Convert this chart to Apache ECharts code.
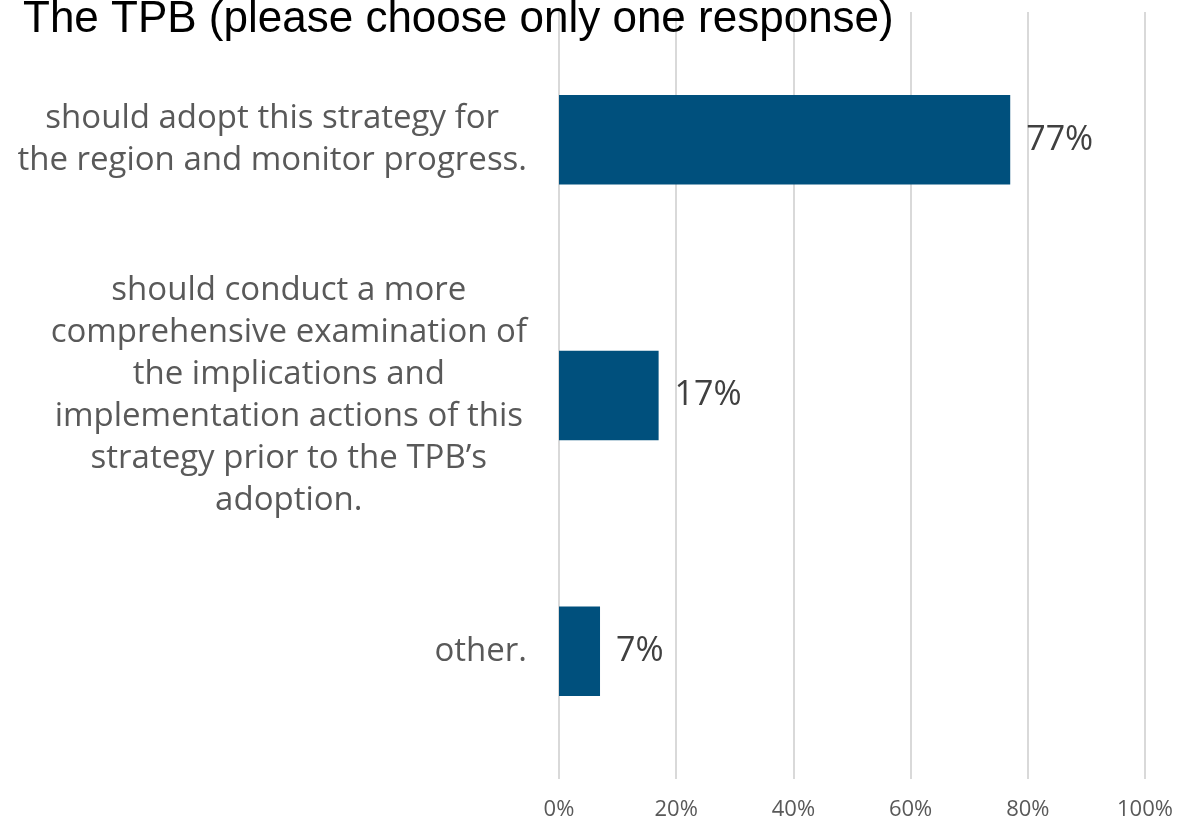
<!DOCTYPE html>
<html>
<head>
	<meta charset="utf-8"/>
	<title>TPB response</title>
	<script src="https://cdn.jsdelivr.net/npm/echarts@6/dist/echarts.min.js"></script>
</head>
<body style="margin: 0; background: #fff;">

	<div id="chart" style="width: 1178px; height: 821px;"></div>

	<script>
		var titleText = 'The TPB (please choose only one response)';
		var categories = [
			'should adopt this strategy for\nthe region and monitor progress.',
			'should conduct a more\ncomprehensive examination of\nthe implications and\nimplementation actions of this\nstrategy prior to the TPB\u2019s\nadoption.',
			'other.'
		];
		var values = [77, 17, 7];
		var tickStep = 20;

		var myChart = echarts.init(document.getElementById('chart'));

		var option = {
			animation: false,
			title: {
				text: titleText,
				left: 18,
				top: -7,
				textStyle: {
					fontFamily: 'Liberation Sans',
					fontWeight: 'normal',
					fontSize: 44,
					color: '#000'
				}
			},
			grid: {
				left: 559,
				right: 33,
				top: 12,
				bottom: 40
			},
			xAxis: {
				type: 'value',
				min: 0,
				max: 100,
				interval: tickStep,
				axisLine: { show: false },
				axisTick: { show: false },
				splitLine: {
					lineStyle: { color: '#d9d9d9', width: 2 }
				},
				axisLabel: {
					formatter: '{value}%',
					color: '#595959',
					fontFamily: 'Open Sans',
					fontSize: 22,
					margin: 20
				}
			},
			yAxis: {
				type: 'category',
				inverse: true,
				data: categories,
				axisLine: { show: false },
				axisTick: { show: false },
				axisLabel: {
					align: 'right',
					margin: 32,
					formatter: function (val) {
						// 每行单独居中
						return val.split('\n').map(function (s) {
							return '{c|' + s + '}';
						}).join('\n');
					},
					rich: {
						c: {
							align: 'center',
							color: '#595959',
							fontFamily: 'Open Sans',
							fontSize: 33,
							lineHeight: 42
						}
					}
				}
			},
			series: [
				{
					type: 'bar',
					data: values,
					barWidth: '35%',
					itemStyle: { color: '#00507d' },
					label: {
						show: true,
						position: 'right',
						distance: 16,
						formatter: '{c}%',
						color: '#404040',
						fontFamily: 'Open Sans',
						fontSize: 34
					}
				}
			]
		};

		myChart.setOption(option);
	</script>
</body>
</html>
